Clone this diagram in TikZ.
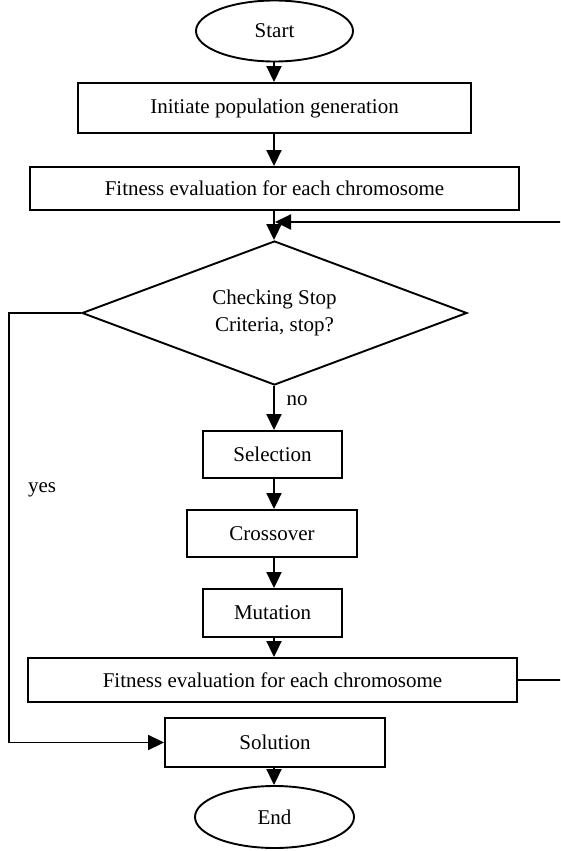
\documentclass[tikz,border=0pt]{standalone}
\usepackage{fontspec}
\setmainfont{Liberation Serif}
\usetikzlibrary{shapes.geometric,arrows.meta}
\begin{document}
\begin{tikzpicture}[x=1pt,y=-1pt,
  every node/.style={font=\fontsize{21}{27}\selectfont, inner sep=0pt},
  flowbox/.style={draw, line width=1.9pt, rectangle, align=center},
  terminal/.style={draw, line width=1.9pt, ellipse},
  decision/.style={draw, line width=1.9pt, diamond, shape aspect=2.67, align=center},
  flow/.style={line width=1.9pt, -{Triangle[length=16pt,width=15pt]}}]
  \clip (0,0) rectangle (560,851);
  \useasboundingbox (0,0) rectangle (560,851);

  % main column
  \node[terminal, minimum width=157, minimum height=61] (start) at (274.5,31) {Start};
  \node[flowbox, minimum width=393, minimum height=50] (init) at (274.5,108) {Initiate population generation};
  \node[flowbox, minimum width=489, minimum height=43] (fit1) at (274.5,188.5) {Fitness evaluation for each chromosome};
  \node[decision, minimum width=385, minimum height=144] (check) at (274.5,313) {Checking Stop\\Criteria, stop?};
  \node[flowbox, minimum width=139, minimum height=47] (sel) at (272.5,454.5) {Selection};
  \node[flowbox, minimum width=170, minimum height=47] (cross) at (272,533.5) {Crossover};
  \node[flowbox, minimum width=139, minimum height=48] (mut) at (272.5,613) {Mutation};
  \node[flowbox, minimum width=489, minimum height=44] (fit2) at (272.5,680) {Fitness evaluation for each chromosome};
  \node[flowbox, minimum width=220, minimum height=49] (sol) at (275,742.5) {Solution};
  \node[terminal, minimum width=159, minimum height=62] (end) at (274.5,817) {End};

  % labels
  \node (no) at (297,401) {no};
  \node (yes) at (42,490) {yes};

  % axis and routing points
  \coordinate (ax) at (274,0);
  \coordinate (loopin) at (275,222);
  \coordinate (rightrail) at (562,0);
  \coordinate (leftrail) at (9,0);

  % straight flow
  \draw[flow] (start.south -| ax) -- (init.north -| ax);
  \draw[flow] (init.south -| ax) -- (fit1.north -| ax);
  \draw[flow] (fit1.south -| ax) -- (check.north -| ax);
  \draw[flow] (check.south -| ax) -- (sel.north -| ax);
  \draw[flow] (sel.south -| ax) -- (cross.north -| ax);
  \draw[flow] (cross.south -| ax) -- (mut.north -| ax);
  \draw[flow] (mut.south -| ax) -- (fit2.north -| ax);
  \draw[flow] (sol.south -| ax) -- (end.north -| ax);

  % loop back to the stop check
  \draw[flow] (fit2.east) -- (fit2.east -| rightrail) -- (loopin -| rightrail) -- (loopin);

  % stop criteria met
  \draw[flow] (check.west) -- (check.west -| leftrail) -- (sol.west -| leftrail) -- (sol.west);
\end{tikzpicture}
\end{document}
